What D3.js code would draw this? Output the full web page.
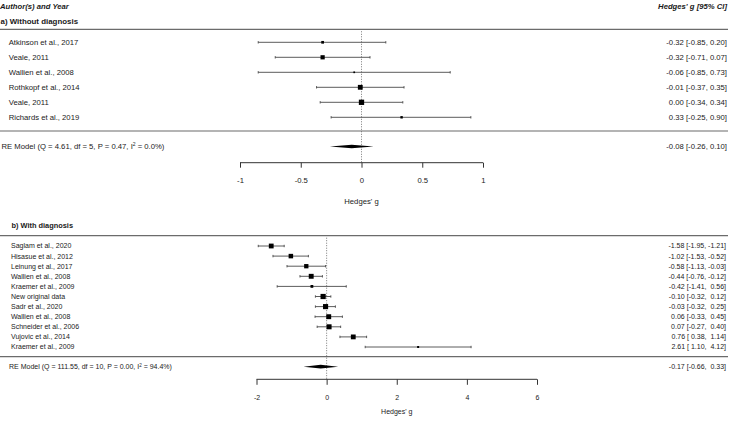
<!DOCTYPE html>
<html><head><meta charset="utf-8">
<script src="https://cdn.jsdelivr.net/npm/d3@7"></script>
<style>
html,body{margin:0;padding:0;background:#fff;}
svg{display:block;font-family:"Liberation Sans",Arial,sans-serif;}
text{white-space:pre;fill:#1a1a1a;}
</style></head><body>
<svg id="c" width="729" height="424"></svg>
<script>
// ---------- DATA ----------
const studiesA = ["Atkinson et al., 2017","Veale, 2011","Wallien et al., 2008","Rothkopf et al., 2014","Veale, 2011","Richards et al., 2019"];
const estA = [-0.32,-0.32,-0.06,-0.01,0.00,0.33];
const loA  = [-0.85,-0.71,-0.85,-0.37,-0.34,-0.25];
const hiA  = [0.20,0.07,0.73,0.35,0.34,0.90];
const weightA = [11.5,21.0,5.2,24.8,27.8,9.7];
const reA = {label:"RE Model (Q = 4.61, df = 5, P = 0.47, I", sup:"2", tail:" = 0.0%)", est:-0.08, lo:-0.26, hi:0.10};
const ticksA = [-1,-0.5,0,0.5,1];

const studiesB = ["Saglam et al., 2020","Hisasue et al., 2012","Leinung et al., 2017","Wallien et al., 2008","Kraemer et al., 2009","New original data","Sadr et al., 2020","Wallien et al., 2008","Schneider et al., 2006","Vujovic et al., 2014","Kraemer et al., 2009"];
const estB = [-1.58,-1.02,-0.58,-0.44,-0.42,-0.10,-0.03,0.06,0.07,0.76,2.61];
const loB  = [-1.95,-1.53,-1.13,-0.76,-1.41,-0.32,-0.32,-0.33,-0.27,0.38,1.10];
const hiB  = [-1.21,-0.52,-0.03,-0.12,0.56,0.12,0.25,0.45,0.40,1.14,4.12];
const weightB = [9.5,9.2,9.0,9.6,7.5,9.9,9.8,9.6,9.7,9.5,6.7];
const reB = {label:"RE Model (Q = 111.55, df = 10, P = 0.00, I", sup:"2", tail:" = 94.4%)", est:-0.17, lo:-0.66, hi:0.33};
const ticksB = [-2,0,2,4,6];

// ---------- DRAW ----------
const svg = d3.select("#c");
const W = 729;

function fmt(v){ return v.toFixed(2); }
function fmtPad(v){ const s = v.toFixed(2); return s.length < 5 ? " " + s : s; }

function panel(cfg){
  const g = svg.append("g");
  const x = d3.scaleLinear().domain(cfg.domain).range(cfg.xRange);
  const y = d3.scalePoint().domain(d3.range(cfg.studies.length)).range(cfg.yRange);
  const side = d3.scaleLinear().domain(d3.extent(cfg.weights)).range(cfg.sizeRange);

  // title
  g.append("text").attr("x", cfg.titleX).attr("y", cfg.titleY).attr("dy","0.35em")
    .attr("font-weight","bold").attr("font-size", cfg.titleFont).text(cfg.title);
  // lines
  g.append("line").attr("x1",0).attr("x2",W-1).attr("y1",cfg.topLine).attr("y2",cfg.topLine)
    .attr("stroke","#6b6b6b").attr("stroke-width",1.2);
  g.append("line").attr("x1",0).attr("x2",W-1).attr("y1",cfg.sepLine).attr("y2",cfg.sepLine)
    .attr("stroke","#6b6b6b").attr("stroke-width",1.2);
  // zero reference
  g.append("line").attr("x1",x(0)).attr("x2",x(0)).attr("y1",cfg.topLine+2).attr("y2",cfg.axisY)
    .attr("stroke","#555").attr("stroke-width",0.8).attr("stroke-dasharray","1,1.5");

  const idx = d3.range(cfg.studies.length);
  // CI lines
  g.selectAll(".ci").data(idx).join("line")
    .attr("x1",i=>x(cfg.lo[i])).attr("x2",i=>x(cfg.hi[i]))
    .attr("y1",i=>y(i)).attr("y2",i=>y(i)).attr("stroke","#4a4a4a").attr("stroke-width",0.9);
  ["lo","hi"].forEach(k=>{
    g.selectAll(".cap"+k).data(idx).join("line")
      .attr("x1",i=>x(cfg[k][i])).attr("x2",i=>x(cfg[k][i]))
      .attr("y1",i=>y(i)-1.2).attr("y2",i=>y(i)+1.2).attr("stroke","#4a4a4a").attr("stroke-width",0.9);
  });
  // squares
  g.selectAll(".sq").data(idx).join("rect")
    .attr("x",i=>x(cfg.est[i])-side(cfg.weights[i])/2)
    .attr("y",i=>y(i)-side(cfg.weights[i])/2)
    .attr("width",i=>side(cfg.weights[i])).attr("height",i=>side(cfg.weights[i]))
    .attr("fill","#000");
  // study labels
  g.selectAll(".lab").data(idx).join("text")
    .attr("x",cfg.labelX).attr("y",i=>y(i)).attr("dy","0.35em").attr("font-size",cfg.font)
    .text(i=>cfg.studies[i]);
  // right text
  g.selectAll(".val").data(idx).join("text")
    .attr("x",cfg.rightX).attr("y",i=>y(i)).attr("dy","0.35em").attr("font-size",cfg.font)
    .attr("text-anchor","end")
    .text(i=>`${cfg.f(cfg.est[i])} [${cfg.f(cfg.lo[i])}, ${cfg.f(cfg.hi[i])}]`);
  // RE model
  const re = cfg.re;
  const rt = g.append("text").attr("x",cfg.reX).attr("y",cfg.reY).attr("dy","0.35em").attr("font-size",cfg.font);
  rt.append("tspan").text(re.label);
  rt.append("tspan").attr("font-size",cfg.font*0.65).attr("dy","-0.55em").text(re.sup);
  rt.append("tspan").attr("dy","0.36em").text(re.tail);
  g.append("text").attr("x",cfg.rightX).attr("y",cfg.reY).attr("dy","0.35em").attr("font-size",cfg.font)
    .attr("text-anchor","end").text(`${cfg.f(re.est)} [${cfg.f(re.lo)}, ${cfg.f(re.hi)}]`);
  g.append("polygon").attr("points",[
    [x(re.lo),cfg.reY],[x(re.est),cfg.reY-cfg.diaH],[x(re.hi),cfg.reY],[x(re.est),cfg.reY+cfg.diaH]
  ].map(p=>p.join(",")).join(" ")).attr("fill","#000");

  // axis
  const ax = g.append("g").attr("transform",`translate(0,${cfg.axisY})`)
    .call(d3.axisBottom(x).tickValues(cfg.ticks).tickSize(cfg.tickLen).tickPadding(cfg.tickPad).tickFormat(d=>String(d)));
  ax.select(".domain").attr("stroke","#333").attr("d",`M${x(cfg.domain[0])},0H${x(cfg.domain[1])}`);
  ax.selectAll(".tick line").attr("stroke","#333");
  ax.selectAll(".tick text").attr("font-size",cfg.font).attr("fill","#1a1a1a")
    .attr("font-family","'Liberation Sans',Arial,sans-serif");
  g.append("text").attr("x",(x(cfg.domain[0])+x(cfg.domain[1]))/2).attr("y",cfg.xlabY).attr("dy","0.35em")
    .attr("text-anchor","middle").attr("font-size",cfg.font).text("Hedges' g");
}

// headers
svg.append("text").attr("x",0).attr("y",6).attr("dy","0.35em").attr("font-size",7.7)
  .attr("font-weight","bold").attr("font-style","italic").text("Author(s) and Year");
svg.append("text").attr("x",727).attr("y",6).attr("dy","0.35em").attr("font-size",7.7).attr("text-anchor","end")
  .attr("font-weight","bold").attr("font-style","italic").text("Hedges' g [95% CI]");

panel({
  title:"a) Without diagnosis", titleX:0.5, titleY:20.8, titleFont:7.9,
  studies:studiesA, est:estA, lo:loA, hi:hiA, weights:weightA, re:reA, ticks:ticksA,
  domain:[-1,1], xRange:[240,483], yRange:[42.3,117.3], sizeRange:[1.7,5.3],
  topLine:29.3, sepLine:131, reY:146.5, axisY:162.7, tickLen:5, tickPad:10, xlabY:201.7,
  labelX:8.7, reX:1.5, rightX:727, font:7.7, f:fmt, diaH:1.8
});
panel({
  title:"b) With diagnosis", titleX:11.5, titleY:225.3, titleFont:7.4,
  studies:studiesB, est:estB, lo:loB, hi:hiB, weights:weightB, re:reB, ticks:ticksB,
  domain:[-2,6], xRange:[256.5,537], yRange:[246,347], sizeRange:[2,5.2],
  topLine:235.7, sepLine:356.7, reY:366.7, axisY:379.3, tickLen:5.5, tickPad:10, xlabY:411.7,
  labelX:11, reX:9, rightX:726, font:7, f:fmtPad, diaH:1.9
});
</script>
</body></html>
